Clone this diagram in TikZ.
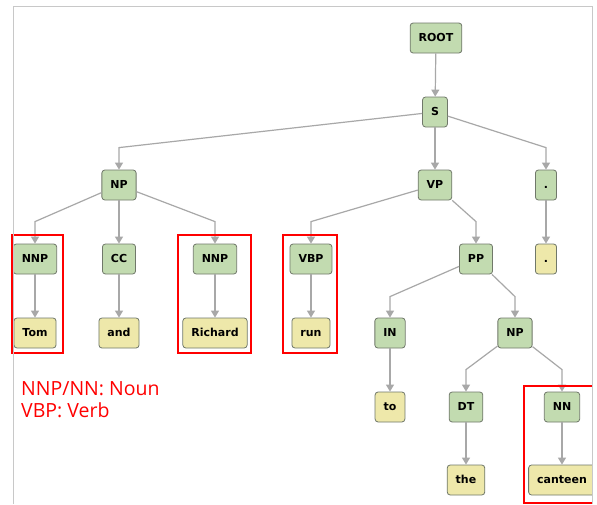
\documentclass[tikz,border=0pt]{standalone}
\usepackage{fontspec}
\setsansfont{DejaVu Sans}
\newfontfamily\legendfont{Open Sans}
\usetikzlibrary{arrows.meta}

\definecolor{taggreen}{RGB}{194,219,176}
\definecolor{wordyellow}{RGB}{238,232,170}
\definecolor{boxline}{RGB}{112,120,106}
\definecolor{edgegray}{RGB}{168,168,168}
\definecolor{framegray}{RGB}{200,200,200}

\tikzstyle{tag}=[draw=boxline,fill=taggreen,rounded corners=3pt,line width=0.8pt,
  minimum height=30pt,minimum width=21pt,inner xsep=8.5pt,text height=8pt,text depth=2pt,
  font=\sffamily\bfseries\fontsize{11}{13}\selectfont]
\tikzstyle{word}=[tag,fill=wordyellow]
\tikzstyle{edge}=[draw=edgegray,line width=1.2pt,-{Triangle[width=8pt,length=7pt]}]
\tikzstyle{hilite}=[draw=red,line width=2pt]
\tikzstyle{frame}=[draw=framegray,line width=1pt]
\tikzstyle{legend}=[text=red,inner sep=0pt,anchor=base west,font=\legendfont\fontsize{19.5}{22}\selectfont]

\begin{document}
\begin{tikzpicture}[x=1pt,y=-1pt]

   \useasboundingbox (0,0) rectangle (597,504);
   \fill[white] (0,0) rectangle (597,504);

   \begin{scope}
   \clip (0,0) rectangle (592,504);

   % phrase level
   \node[tag] (root) at (436,38) {ROOT};
   \node[tag] (s) at (435,112) {S};
   \node[tag] (np) at (119,185) {NP};
   \node[tag] (vp) at (435,185) {VP};
   \node[tag] (dot) at (546,185) {.};

   \node[tag] (nnpa) at (35,259) {NNP};
   \node[tag] (cc) at (119,259) {CC};
   \node[tag] (nnpb) at (215,259) {NNP};
   \node[tag] (vbp) at (311,259) {VBP};
   \node[tag] (pp) at (476,259) {PP};
   \node[word] (wdot) at (546,259) {.};

   \node[word] (wtom) at (35,333) {Tom};
   \node[word] (wand) at (119,333) {and};
   \node[word] (wrichard) at (215,333) {Richard};
   \node[word] (wrun) at (311,333) {run};
   \node[tag] (in) at (390,333) {IN};
   \node[tag] (npb) at (515,333) {NP};

   \node[word] (wto) at (390,407) {to};
   \node[tag] (dt) at (466,407) {DT};
   \node[tag] (nn) at (562,407) {NN};

   \node[word] (wthe) at (466,480) {the};
   \node[word] (wcanteen) at (562,480) {canteen};

   % connectors
   \draw[edge] (root) -- (s);
   \draw[edge] (s) -- ([yshift=22pt]np.north) -- (np);
   \draw[edge] (s) -- (vp);
   \draw[edge] (s) -- ([yshift=22pt]dot.north) -- (dot);

   \draw[edge] (np) -- ([yshift=22pt]nnpa.north) -- (nnpa);
   \draw[edge] (np) -- (cc);
   \draw[edge] (np) -- ([yshift=22pt]nnpb.north) -- (nnpb);
   \draw[edge] (vp) -- ([yshift=22pt]vbp.north) -- (vbp);
   \draw[edge] (vp) -- ([yshift=22pt]pp.north) -- (pp);
   \draw[edge] (dot) -- (wdot);

   \draw[edge] (nnpa) -- (wtom);
   \draw[edge] (cc) -- (wand);
   \draw[edge] (nnpb) -- (wrichard);
   \draw[edge] (vbp) -- (wrun);
   \draw[edge] (pp) -- ([yshift=21pt]in.north) -- (in);
   \draw[edge] (pp) -- ([yshift=21pt]npb.north) -- (npb);

   \draw[edge] (in) -- (wto);
   \draw[edge] (npb) -- ([yshift=22pt]dt.north) -- (dt);
   \draw[edge] (npb) -- ([yshift=22pt]nn.north) -- (nn);
   \draw[edge] (dt) -- (wthe);
   \draw[edge] (nn) -- (wcanteen);

   % highlighted nouns and verb
   \draw[hilite] (12,235) rectangle (63,353);
   \draw[hilite] (178,235) rectangle (251,353);
   \draw[hilite] (283,235) rectangle (337,353);
   \draw[hilite] (524,386) rectangle (598,503);
   \end{scope}

   \draw[frame] (13,504) -- (13,6) -- (592,6) -- (592,504);

   \node[legend] (legnoun) at (21,395) {NNP/NN: Noun};
   \node[legend] (legverb) at (21,417) {VBP: Verb};

\end{tikzpicture}
\end{document}
